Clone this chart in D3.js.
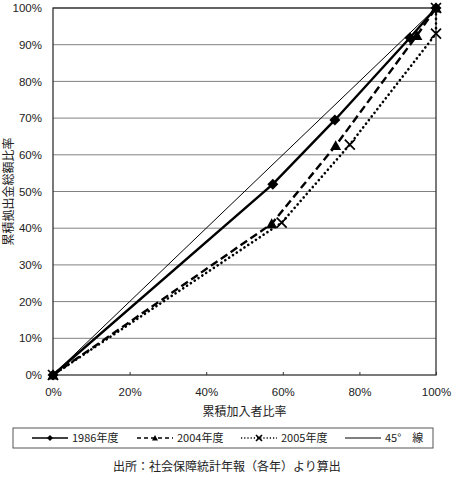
<!DOCTYPE html>
<html>
<head>
<meta charset="utf-8">
<script src="https://cdn.jsdelivr.net/npm/d3@7"></script>
<style>
  body { margin: 0; background: #fff; }
  svg { font-family: "Liberation Sans Narrow", "DejaVu Sans Condensed", "Noto Sans CJK JP", sans-serif; }
  .jp { font-family: "Noto Sans CJK JP", sans-serif; }
</style>
</head>
<body>
<svg id="chart" width="452" height="483"></svg>
<script>
// cumulative share of members (x) vs cumulative share of contributions (y), in %
var s1986x = [0, 57.4, 73.6, 93.2, 100];
var s1986y = [0, 52.0, 69.5, 91.9, 100];
var s2004x = [0, 57.1, 73.8, 95.0, 100];
var s2004y = [0, 41.2, 62.5, 92.5, 100];
var s2005x = [0, 59.7, 77.5, 100, 100];
var s2005y = [0, 41.5, 62.8, 93.0, 100];
var diagX = [0, 100];
var diagY = [0, 100];

var xTicks = [0, 20, 40, 60, 80, 100];
var yTicks = [0, 10, 20, 30, 40, 50, 60, 70, 80, 90, 100];
var legendLabels = ["1986年度", "2004年度", "2005年度", "45°\u3000線"];

var svg = d3.select("#chart"),
    margin = {left: 53, right: 16, top: 8, bottom: 108},
    width = +svg.attr("width") - margin.left - margin.right,
    height = +svg.attr("height") - margin.top - margin.bottom;

var x = d3.scaleLinear().domain([0, 100]).range([0, width]);
var y = d3.scaleLinear().domain([0, 100]).range([height, 0]);

var g = svg.append("g").attr("transform", "translate(" + margin.left + "," + margin.top + ")");

// gridlines
g.append("g").selectAll("line")
    .data(yTicks.slice(1))
    .enter().append("line")
    .attr("x1", 0).attr("x2", width)
    .attr("y1", function(d) { return y(d); })
    .attr("y2", function(d) { return y(d); })
    .attr("stroke", "#808080").attr("stroke-width", 1);

// plot border
g.append("rect")
    .attr("x", 0).attr("y", 0).attr("width", width).attr("height", height)
    .attr("fill", "none").attr("stroke", "#333").attr("stroke-width", 1.3);

// x axis
var xAxis = g.append("g")
    .attr("transform", "translate(0," + height + ")")
    .call(d3.axisBottom(x).tickValues(xTicks).tickSize(-3).tickPadding(13)
        .tickFormat(function(d) { return d + "%"; }));
xAxis.select(".domain").remove();
xAxis.selectAll("line").attr("stroke", "#333");
xAxis.selectAll("text").attr("font-size", 11.5).attr("fill", "#222").attr("font-family", null);

// y axis
var yAxis = g.append("g")
    .call(d3.axisLeft(y).tickValues(yTicks).tickSize(0).tickPadding(11)
        .tickFormat(function(d) { return d + "%"; }));
yAxis.select(".domain").remove();
yAxis.selectAll("text").attr("font-size", 11.5).attr("fill", "#222").attr("font-family", null);

// axis titles
g.append("text").attr("class", "jp")
    .attr("x", width / 2).attr("y", height + 41)
    .attr("text-anchor", "middle").attr("font-size", 12).attr("fill", "#222")
    .text("累積加入者比率");

svg.append("text").attr("class", "jp")
    .attr("transform", "translate(13," + (margin.top + height / 2) + ") rotate(-90)")
    .attr("text-anchor", "middle").attr("font-size", 12).attr("fill", "#222")
    .text("累積拠出金総額比率");

function pts(xs, ys) {
    return xs.map(function(v, i) { return [v, ys[i]]; });
}

var line = d3.line()
    .x(function(d) { return x(d[0]); })
    .y(function(d) { return y(d[1]); });

var series = [
    {name: legendLabels[0], data: pts(s1986x, s1986y), dash: null, width: 2.4, marker: "diamond"},
    {name: legendLabels[1], data: pts(s2004x, s2004y), dash: "8,4", width: 2.4, marker: "triangle"},
    {name: legendLabels[2], data: pts(s2005x, s2005y), dash: "0.1,4.5", width: 2.6, marker: "x"},
    {name: legendLabels[3], data: pts(diagX, diagY), dash: null, width: 1, marker: null}
];

function drawMarker(sel, type, size) {
    if (type === "diamond") {
        var h = size / 2;
        sel.append("path").attr("d", "M0," + -h + "L" + h + ",0L0," + h + "L" + -h + ",0Z")
            .attr("fill", "#000");
    } else if (type === "triangle") {
        var t = size / 2;
        sel.append("path").attr("d", "M0," + -t + "L" + t + "," + t * 0.8 + "L" + -t + "," + t * 0.8 + "Z")
            .attr("fill", "#000");
    } else if (type === "x") {
        var r = size / 2;
        sel.append("path").attr("d", "M" + -r + "," + -r + "L" + r + "," + r + "M" + -r + "," + r + "L" + r + "," + -r)
            .attr("stroke", "#000").attr("stroke-width", 1.7).attr("fill", "none");
    }
}

series.forEach(function(s) {
    g.append("path")
        .datum(s.data)
        .attr("d", line)
        .attr("fill", "none")
        .attr("stroke", "#000")
        .attr("stroke-width", s.width)
        .attr("stroke-linecap", s.marker === "x" ? "round" : "butt")
        .attr("stroke-dasharray", s.dash);
});

series.forEach(function(s) {
    if (!s.marker) return;
    g.append("g").selectAll("g")
        .data(s.data)
        .enter().append("g")
        .attr("transform", function(d) { return "translate(" + x(d[0]) + "," + y(d[1]) + ")"; })
        .each(function() { drawMarker(d3.select(this), s.marker, s.marker === "x" ? 10 : 11); });
});

// legend
var legend = svg.append("g").attr("transform", "translate(13,428)");
legend.append("rect")
    .attr("width", 420).attr("height", 20)
    .attr("fill", "#fff").attr("stroke", "#555").attr("stroke-width", 1);

var legX = [19, 124, 228, 332];
legend.selectAll("g.item")
    .data(series)
    .enter().append("g")
    .attr("class", "item")
    .attr("transform", function(d, i) { return "translate(" + legX[i] + ",10)"; })
    .each(function(d) {
        var it = d3.select(this);
        it.append("line")
            .attr("x1", 0).attr("x2", 36).attr("y1", 0).attr("y2", 0)
            .attr("stroke", "#000")
            .attr("stroke-width", d.marker ? 1.6 : 1)
            .attr("stroke-dasharray", d.dash ? (d.marker === "x" ? "1.2,2" : "4,3") : null);
        if (d.marker) {
            var m = it.append("g").attr("transform", "translate(18,0)");
            drawMarker(m, d.marker, 6);
        }
        it.append("text").attr("class", "jp")
            .attr("x", 40).attr("y", 4)
            .attr("font-size", 11).attr("fill", "#222")
            .text(d.name);
    });

// source note
svg.append("text").attr("class", "jp")
    .attr("x", 227).attr("y", 471)
    .attr("text-anchor", "middle").attr("font-size", 12).attr("fill", "#222")
    .text("出所：社会保障統計年報（各年）より算出");
</script>
</body>
</html>
